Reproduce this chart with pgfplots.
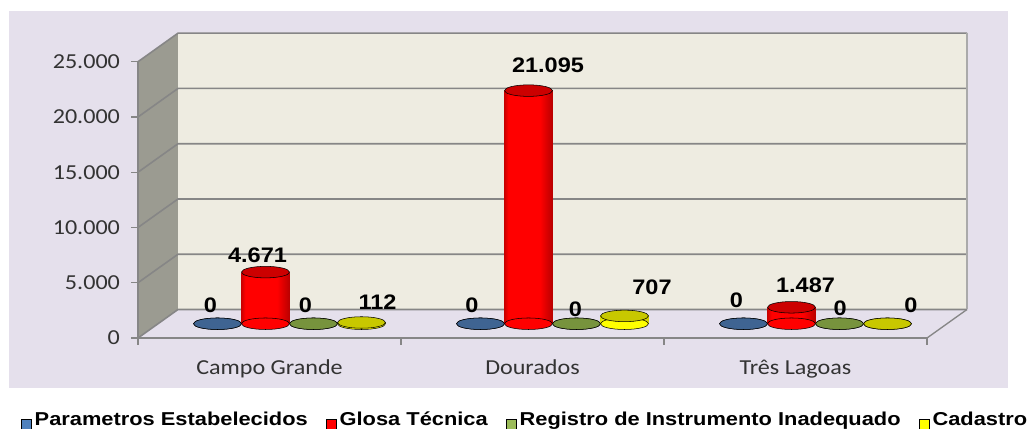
\documentclass[border=0pt]{standalone}
\usepackage{pgfplots}
\pgfplotsset{compat=1.18}
\usepackage{fontspec}
\setmainfont{Liberation Sans}
\newfontfamily\calibri[FakeStretch=1.13]{Carlito}
\newfontfamily\arialx[FakeStretch=1.12]{Liberation Sans}
\newfontfamily\arialy[FakeStretch=1.17]{Liberation Sans}
\definecolor{bgl}{RGB}{229,224,236}
\definecolor{backw}{RGB}{238,236,225}
\definecolor{sidew}{RGB}{155,155,145}
\definecolor{gridc}{RGB}{134,134,134}
\definecolor{bluetop}{RGB}{63,100,146}
\definecolor{redside}{RGB}{255,0,0}
\definecolor{redtop}{RGB}{204,0,0}
\definecolor{redl}{RGB}{205,0,0}
\definecolor{redr}{RGB}{185,0,0}
\definecolor{greentop}{RGB}{119,147,61}
\definecolor{yelside}{RGB}{255,255,0}
\definecolor{yeltop}{RGB}{200,200,0}
\definecolor{yell}{RGB}{225,225,0}
\definecolor{yelr}{RGB}{205,205,0}
\definecolor{legblue}{RGB}{79,129,189}
\definecolor{legred}{RGB}{255,0,0}
\definecolor{leggreen}{RGB}{155,187,89}
\definecolor{legyel}{RGB}{255,255,0}

\pgfdeclarehorizontalshading{redcyl}{100bp}{color(0bp)=(redl); color(25bp)=(redl); color(29bp)=(redside); color(62bp)=(redside); color(75bp)=(redr); color(100bp)=(redr)}
\pgfdeclarehorizontalshading{yelcyl}{100bp}{color(0bp)=(yell); color(25bp)=(yell); color(30bp)=(yelside); color(62bp)=(yelside); color(75bp)=(yelr); color(100bp)=(yelr)}
\pgfdeclarehorizontalshading{bluecyl}{100bp}{color(0bp)=(bluetop); color(100bp)=(bluetop)}
\pgfdeclarehorizontalshading{greencyl}{100bp}{color(0bp)=(greentop); color(100bp)=(greentop)}

% #1 x, #2 value, #3 bar shift, #4 side, #5 top, #6 shading, #7 label dx, #8 label dy
\newcommand{\cyl}[8]{%
  \addplot[forget plot, only marks, mark=*, mark size=18pt,
    mark options={xshift=#3, yscale=0.24, draw=none, fill=#4}]
    coordinates {(#1,0)};
  \addplot[forget plot, ybar, bar width=36pt, bar shift=#3, draw=none,
    shading=#6]
    coordinates {(#1,#2)};
  \addplot[forget plot, only marks, mark=*, mark size=18pt,
    mark options={xshift=#3, yscale=0.24, draw=none, fill=#5},
    nodes near coords={\pgfmathprintnumber[1000 sep={.}]{\pgfplotspointmeta}},
    every node near coord/.append style={anchor=base, inner sep=0pt, xshift=#7, yshift=#8,
      font=\arialx\bfseries\fontsize{15.75}{18}\selectfont, text=black}]
    coordinates {(#1,#2)};
}

\begin{document}
\begin{tikzpicture}[x=0.75pt,y=0.75pt]
\fill[white] (0,0) rectangle (1027,428);
\fill[bgl] (9,40) rectangle (1008,417);
\begin{axis}[
  at={(103.5pt,67.5pt)}, anchor=south west,
  scale only axis, width=591.75pt, height=207.2pt,
  xmin=0, xmax=3, ymin=0, ymax=25000, clip=false,
  axis on top,
  axis x line*=bottom, axis y line*=left,
  axis line style={draw=gridc, line width=1pt},
  scaled y ticks=false,
  ytick={0,5000,10000,15000,20000,25000},
  yticklabels={0,5.000,10.000,15.000,20.000,25.000},
  xtick={0,1,2,3}, xticklabels={{},{},{},{}},
  extra x ticks={0.5,1.5,2.5},
  extra x tick labels={Campo Grande,Dourados,Três Lagoas},
  extra x tick style={major tick length=0pt,
    xticklabel style={anchor=base, yshift=-27.75pt}},
  tick align=outside, major tick length=5pt,
  tick style={draw=gridc, line width=1pt},
  ticklabel style={font=\calibri\fontsize{16}{19}\selectfont, text=black!80},
  yticklabel style={anchor=east, xshift=-5pt},
]
\def\dx{30pt}\def\dy{21.4pt}
\fill[sidew] (axis cs:0,0) -- (axis cs:0,25000) -- ([shift={(\dx,\dy)}]axis cs:0,25000) -- ([shift={(\dx,\dy)}]axis cs:0,0) -- cycle;
\fill[backw] ([shift={(\dx,\dy)}]axis cs:0,0) rectangle ([shift={(\dx,\dy)}]axis cs:3,25000);
\fill[bgl] (axis cs:0,0) -- (axis cs:3,0) -- ([shift={(\dx,\dy)}]axis cs:3,0) -- ([shift={(\dx,\dy)}]axis cs:0,0) -- cycle;
\pgfplotsinvokeforeach{0,5000,10000,15000,20000,25000}{
  \draw[gridc, line width=1.2pt] (axis cs:0,#1) -- ([shift={(\dx,\dy)}]axis cs:0,#1) -- ([shift={(\dx,\dy)}]axis cs:3,#1);
}
\draw[gridc!70, line width=0.8pt] ([shift={(\dx,\dy)}]axis cs:3,0) -- ([shift={(\dx,\dy)}]axis cs:3,25000);
\draw[gridc, line width=1pt] (axis cs:3,0) -- ([shift={(\dx,\dy)}]axis cs:3,0);
\end{axis}
\begin{axis}[
  at={(118.5pt,78.2pt)}, anchor=south west,
  scale only axis, width=591.75pt, height=207.2pt,
  xmin=0, xmax=3, ymin=0, ymax=25000, clip=false,
  hide axis,
  /pgf/number format/assume math mode=true,
  legend style={at={(0.4660,-0.3485)}, anchor=center, draw=none, fill=none,
    font=\arialy\bfseries\fontsize{14}{17}\selectfont,
    /tikz/every even column/.append style={column sep=12pt}},
  legend columns=4,
  legend image code/.code={\fill[#1] (0pt,-6.75pt) rectangle (7.5pt,0.75pt);},
]
% Campo Grande
\cyl{0.5}{0}{-54pt}{bluetop}{bluetop}{bluecyl}{-5.25pt}{8.5pt}
\cyl{0.5}{4671}{-18pt}{redside}{redtop}{redcyl}{-6pt}{7.3pt}
\cyl{0.5}{0}{18pt}{greentop}{greentop}{greencyl}{-6pt}{8.5pt}
\cyl{0.5}{112}{54pt}{yelside}{yeltop}{yelcyl}{12pt}{9.8pt}
% Dourados
\cyl{1.5}{0}{-54pt}{bluetop}{bluetop}{bluecyl}{-6.4pt}{8.5pt}
\cyl{1.5}{21095}{-18pt}{redside}{redtop}{redcyl}{14.6pt}{13.6pt}
\cyl{1.5}{0}{18pt}{greentop}{greentop}{greencyl}{-0.75pt}{5.5pt}
\cyl{1.5}{707}{54pt}{yelside}{yeltop}{yelcyl}{20.6pt}{16.1pt}
% Tres Lagoas
\cyl{2.5}{0}{-54pt}{bluetop}{bluetop}{bluecyl}{-5.25pt}{12.2pt}
\cyl{2.5}{1487}{-18pt}{redside}{redtop}{redcyl}{10.5pt}{11.2pt}
\cyl{2.5}{0}{18pt}{greentop}{greentop}{greencyl}{0.4pt}{6.2pt}
\cyl{2.5}{0}{54pt}{yelside}{yeltop}{yelcyl}{17.6pt}{8.5pt}
\addlegendimage{fill=legblue}
\addlegendentry{Parametros Estabelecidos}
\addlegendimage{fill=legred}
\addlegendentry{Glosa Técnica}
\addlegendimage{fill=leggreen}
\addlegendentry{Registro de Instrumento Inadequado}
\addlegendimage{fill=legyel}
\addlegendentry{Cadastro}
\end{axis}
\pgfresetboundingbox
\path[use as bounding box] (0,0) rectangle (1027,428);
\end{tikzpicture}
\end{document}
